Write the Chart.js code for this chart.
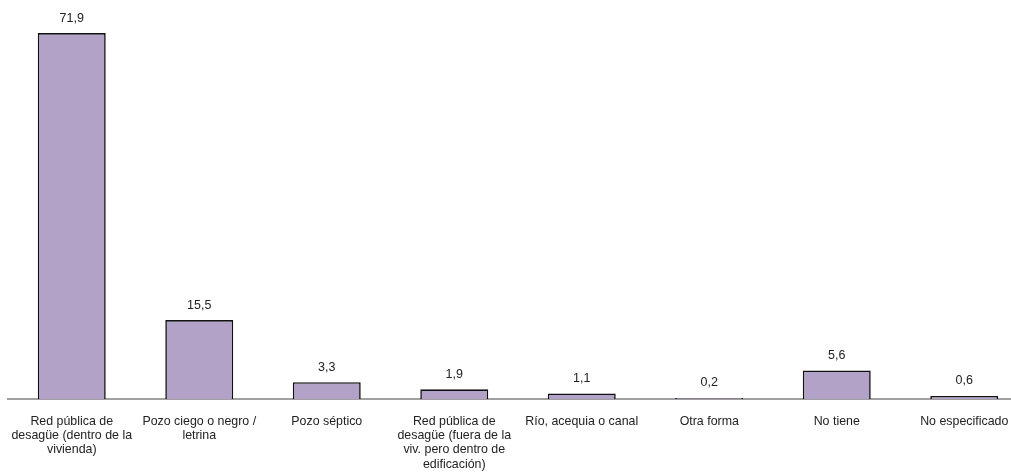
<!DOCTYPE html>
<html>
<head>
<meta charset="utf-8">
<script src="https://cdn.jsdelivr.net/npm/chart.js@4/dist/chart.umd.min.js"></script>
<style>
html,body{margin:0;padding:0;background:#fff;overflow:hidden;}
#wrap{width:1028px;height:474px;}
</style>
</head>
<body>
<div id="wrap"><canvas id="c" width="1028" height="474"></canvas></div>
<script>
const categories = [
  ["Red pública de","desagüe (dentro de la","vivienda)"],
  ["Pozo ciego o negro /","letrina"],
  "Pozo séptico",
  ["Red pública de","desagüe (fuera de la","viv. pero dentro de","edificación)"],
  "Río, acequia o canal",
  "Otra forma",
  "No tiene",
  "No especificado"
];
const values = [71.9, 15.5, 3.3, 1.9, 1.1, 0.2, 5.6, 0.6];

const valueLabels = {
  id: 'valueLabels',
  afterDatasetsDraw(chart) {
    const ctx = chart.ctx;
    const meta = chart.getDatasetMeta(0);
    ctx.save();
    ctx.font = '12.5px "Liberation Sans", Arial, sans-serif';
    ctx.fillStyle = '#222';
    ctx.textAlign = 'center';
    ctx.textBaseline = 'middle';
    meta.data.forEach((bar, i) => {
      ctx.fillText(values[i].toFixed(1).replace('.', ','), bar.x, bar.y - 15);
    });
    ctx.restore();
  }
};

new Chart(document.getElementById('c'), {
  type: 'bar',
  data: {
    labels: categories,
    datasets: [{
      data: values,
      backgroundColor: '#b3a2c7',
      borderColor: '#111',
      borderWidth: 1.6,
      barPercentage: 1,
      categoryPercentage: 0.533
    }]
  },
  options: {
    responsive: false,
    animation: false,
    layout: { padding: { left: 8, right: 0, top: 0, bottom: 0 } },
    plugins: { legend: { display: false }, tooltip: { enabled: false } },
    scales: {
      x: {
        grid: { display: false, drawTicks: false },
        border: { display: true, color: '#a0a0a0', width: 2 },
        ticks: {
          color: '#222',
          font: { family: '"Liberation Sans", Arial, sans-serif', size: 12.4, lineHeight: 1.16 },
          padding: 15,
          maxRotation: 0,
          autoSkip: false
        },
        afterFit(scale) {
          scale.height = 75;
          scale.paddingLeft = 0;
          scale.paddingRight = 0;
        }
      },
      y: {
        display: false,
        min: 0,
        max: 78.4
      }
    }
  },
  plugins: [valueLabels]
});
</script>
</body>
</html>
